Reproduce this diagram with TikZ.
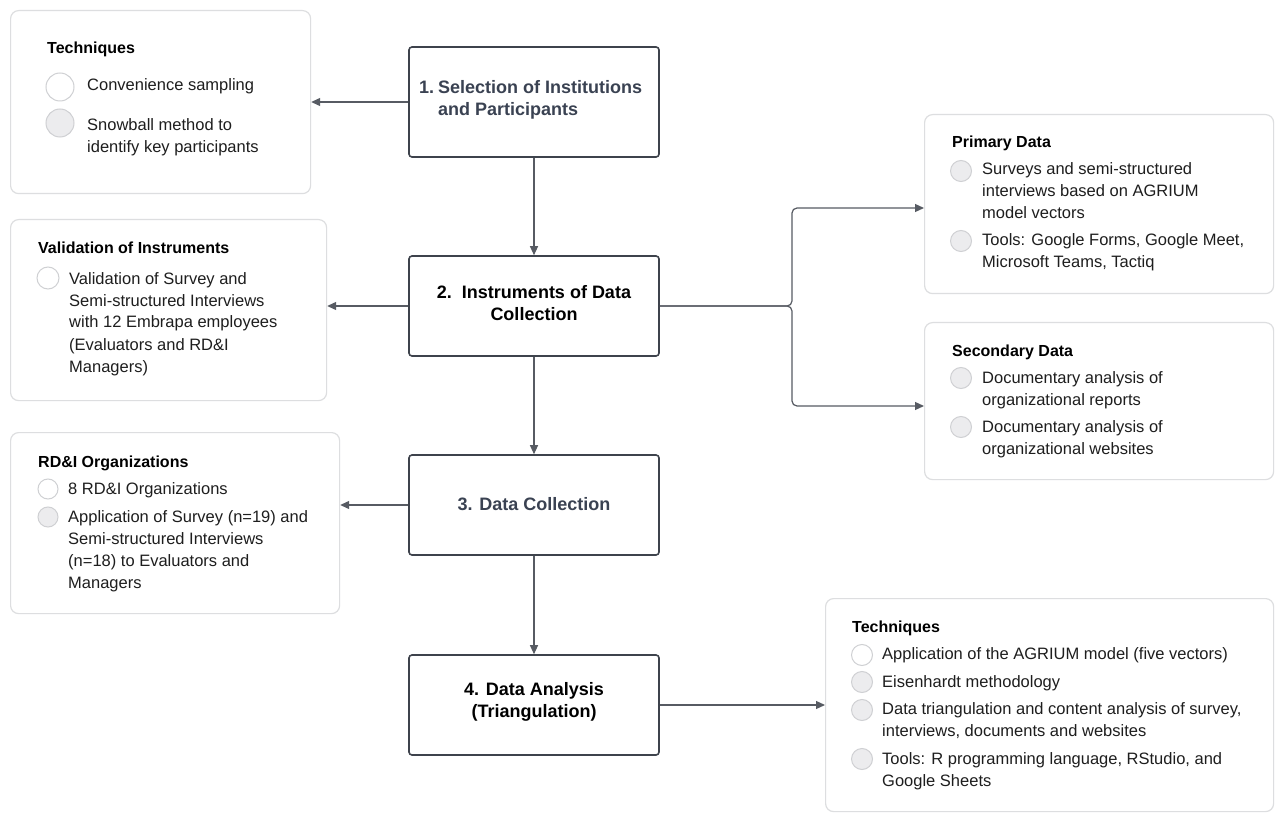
\documentclass[tikz,border=0pt]{standalone}
\usepackage{fontspec}
\setmainfont{Liberation Sans}
\usetikzlibrary{arrows.meta}
\definecolor{boxline}{HTML}{3E434C}
\definecolor{conn}{HTML}{575B63}
\definecolor{panelline}{HTML}{DDDEE0}
\definecolor{dotline}{HTML}{CFD0D3}
\definecolor{dotfill}{HTML}{ECECEE}
\definecolor{slate}{HTML}{3A4252}
\definecolor{bodytext}{HTML}{1E1E1E}
\tikzset{
  stage/.style={draw=boxline, line width=1.6pt, rounded corners=3pt, minimum width=250pt, inner sep=0pt, fill=white},
  stagetext/.style={font=\fontsize{18}{22}\selectfont\bfseries, align=center, inner sep=0pt},
  panel/.style={draw=panelline, line width=1.2pt, rounded corners=8pt, anchor=north west, inner sep=0pt, fill=white},
  ttl/.style={font=\fontsize{16}{20}\selectfont\bfseries, anchor=base west, inner sep=0pt, text=black},
  itm/.style={font=\fontsize{16.5}{22}\selectfont, anchor=base west, align=left, inner sep=0pt, text=bodytext},
  dotw/.style={circle, draw=dotline, line width=1pt, fill=white, inner sep=0pt},
  dotg/.style={circle, draw=dotline, line width=1pt, fill=dotfill, inner sep=0pt},
  arr/.style={draw=conn, line width=1.2pt, -{Triangle[length=9pt,width=8pt]}},
}
\begin{document}
\begin{tikzpicture}[x=1pt,y=-1pt]
\useasboundingbox[fill=white] (0,0) rectangle (1280,818);

% main stages
\node[stage, minimum height=110pt] (b1) at (534,102) {};
\node[stage, minimum height=100pt] (b2) at (534,306) {};
\node[stage, minimum height=100pt] (b3) at (534,505) {};
\node[stage, minimum height=100pt] (b4) at (534,705) {};

\node[stagetext, anchor=west, text=slate] (s1) at (419,100)
  {\begin{tabular}{@{}l@{\hspace{4pt}}l@{}}1.&Selection of Institutions\\&and Participants\end{tabular}};
\node[stagetext, text=black] (s2) at (534,303) {2.\ \ Instruments of Data\\Collection};
\node[stagetext, text=slate] (s3) at (534,504) {3. Data Collection};
\node[stagetext, text=black] (s4) at (534,702) {4. Data Analysis\\(Triangulation)};

% panels
\node[panel, minimum width=300pt, minimum height=183pt] (p1) at (10,10) {};
\node[panel, minimum width=316pt, minimum height=181pt] (p2) at (10,219) {};
\node[panel, minimum width=329pt, minimum height=181pt] (p3) at (10,432) {};
\node[panel, minimum width=349pt, minimum height=179pt] (p4) at (924,114) {};
\node[panel, minimum width=349pt, minimum height=157pt] (p5) at (924,322) {};
\node[panel, minimum width=448pt, minimum height=213pt] (p6) at (825,598) {};

% panel 1 (base of multi-line items = last line)
\node[ttl] (t1) at (47,54) {Techniques};
\node[dotw, minimum size=28pt] (c11) at (60,87) {};
\node[itm] (i11) at (87,91) {Convenience sampling};
\node[dotg, minimum size=28pt] (c12) at (60,123) {};
\node[itm] (i12) at (87,153) {Snowball method to\\identify key participants};

% panel 2
\node[ttl] (t2) at (38,254) {Validation of Instruments};
\node[dotw, minimum size=22pt] (c21) at (48,278) {};
\node[itm] (i21) at (69,372) {Validation of Survey and\\Semi-structured Interviews\\with 12 Embrapa employees\\(Evaluators and RD\&I\\Managers)};

% panel 3
\node[ttl] (t3) at (38,467) {RD\&I Organizations};
\node[dotw, minimum size=20pt] (c31) at (48,489) {};
\node[itm] (i31) at (68,494) {8 RD\&I Organizations};
\node[dotg, minimum size=20pt] (c32) at (48,517) {};
\node[itm] (i32) at (68,588) {Application of Survey (n=19) and\\Semi-structured Interviews\\(n=18) to Evaluators and\\Managers};

% primary data
\node[ttl] (t4) at (952,148) {Primary Data};
\node[dotg, minimum size=21pt] (c41) at (961,171) {};
\node[itm] (i41) at (982,219) {Surveys and semi-structured\\interviews based on AGRIUM\\model vectors};
\node[dotg, minimum size=21pt] (c42) at (961,241) {};
\node[itm] (i42) at (982,268) {Tools: Google Forms, Google Meet,\\Microsoft Teams, Tactiq};

% secondary data
\node[ttl] (t5) at (952,356) {Secondary Data};
\node[dotg, minimum size=21pt] (c51) at (961,378) {};
\node[itm] (i51) at (982,405) {Documentary analysis of\\organizational reports};
\node[dotg, minimum size=21pt] (c52) at (961,427) {};
\node[itm] (i52) at (982,454) {Documentary analysis of\\organizational websites};

% techniques (analysis)
\node[ttl] (t6) at (852,632) {Techniques};
\node[dotw, minimum size=21pt] (c61) at (862,655) {};
\node[itm] (i61) at (882,659) {Application of the AGRIUM model (five vectors)};
\node[dotg, minimum size=21pt] (c62) at (862,682) {};
\node[itm] (i62) at (882,687) {Eisenhardt methodology};
\node[dotg, minimum size=21pt] (c63) at (862,710) {};
\node[itm] (i63) at (882,736) {Data triangulation and content analysis of survey,\\interviews, documents and websites};
\node[dotg, minimum size=21pt] (c64) at (862,759) {};
\node[itm] (i64) at (882,786) {Tools: R programming language, RStudio, and\\Google Sheets};

% connectors
\coordinate (br) at (792,306);
\draw[arr] (b1.south) -- (b2.north);
\draw[arr] (b2.south) -- (b3.north);
\draw[arr] (b3.south) -- (b4.north);
\draw[arr] (b1.west) -- (p1.east |- b1.west);
\draw[arr] (b2.west) -- (p2.east |- b2.west);
\draw[arr] (b3.west) -- (p3.east |- b3.west);
\draw[arr] (b4.east) -- (p6.west |- b4.east);
\draw[arr, rounded corners=5pt] (b2.east) -- (br) |- (p4.west |- 0,208);
\draw[arr, rounded corners=5pt] (b2.east) -- (br) |- (p5.west |- 0,406);
\end{tikzpicture}
\end{document}
